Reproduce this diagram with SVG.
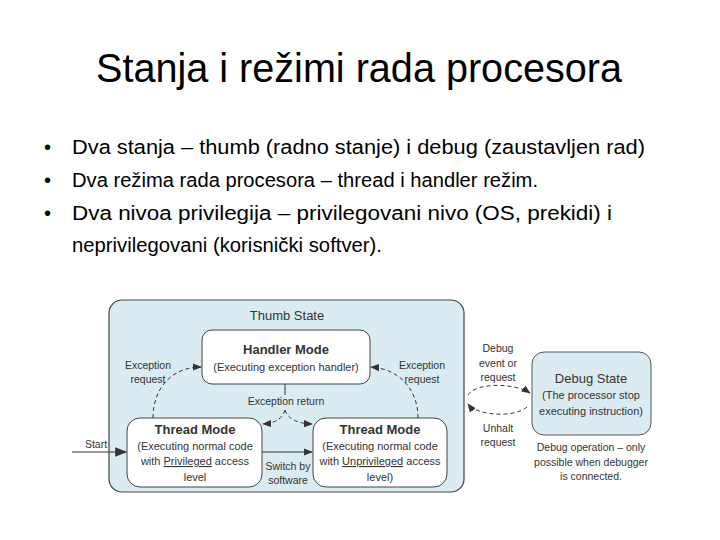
<svg xmlns="http://www.w3.org/2000/svg" width="720" height="540" viewBox="0 0 720 540">
<defs>
<style>
.title{font-family:"Liberation Sans",Arial,sans-serif;font-size:40px;fill:#000}
.bul{font-family:"Liberation Sans",Arial,sans-serif;font-size:20px;fill:#000}
.t{font-family:"Liberation Sans",Arial,sans-serif;fill:#333;text-anchor:middle}
.h{font-size:13px;font-weight:bold}
.n{font-size:11px}
.l{font-size:10.5px}
.s{font-size:13px}
.node{fill:#fff;stroke:#444;stroke-width:1}
.cont{fill:#daebf1;stroke:#444;stroke-width:1.2}
.dash{fill:none;stroke:#333;stroke-width:1;stroke-dasharray:4,3}
.solid{fill:none;stroke:#333;stroke-width:1.2}
</style>
<marker id="arr" viewBox="0 0 10 10" refX="9" refY="5" markerWidth="9" markerHeight="9" markerUnits="userSpaceOnUse" orient="auto">
<path d="M0,1 L10,5 L0,9 Z" fill="#333"/>
</marker>
<marker id="arrL" viewBox="0 0 10 10" refX="9" refY="5" markerWidth="14" markerHeight="12" markerUnits="userSpaceOnUse" orient="auto">
<path d="M0,1 L10,5 L0,9 Z" fill="#333"/>
</marker>
</defs>
<rect width="720" height="540" fill="#fff"/>
<text class="title" x="96" y="82" textLength="526" lengthAdjust="spacingAndGlyphs">Stanja i režimi rada procesora</text>
<g id="bullets">
<text class="bul" x="44" y="154">•</text>
<text class="bul" x="72" y="154" textLength="573" lengthAdjust="spacingAndGlyphs">Dva stanja – thumb (radno stanje) i debug (zaustavljen rad)</text>
<text class="bul" x="44" y="187">•</text>
<text class="bul" x="72" y="187" textLength="466" lengthAdjust="spacingAndGlyphs">Dva režima rada procesora – thread i handler režim.</text>
<text class="bul" x="44" y="220">•</text>
<text class="bul" x="72" y="220" textLength="540" lengthAdjust="spacingAndGlyphs">Dva nivoa privilegija – privilegovani nivo (OS, prekidi) i</text>
<text class="bul" x="72" y="252" textLength="310" lengthAdjust="spacingAndGlyphs">neprivilegovani (korisnički softver).</text>
</g>
<g id="thumb-state">
<rect class="cont" x="109" y="300" width="355" height="192" rx="13"/>
<text class="t s" x="287" y="320">Thumb State</text>
</g>
<g id="handler-mode">
<rect class="node" x="202" y="330" width="168" height="54" rx="10"/>
<text class="t h" x="286" y="354">Handler Mode</text>
<text class="t n" x="286" y="371">(Executing exception handler)</text>
</g>
<g id="thread-priv">
<rect class="node" x="127" y="418" width="135" height="69" rx="13"/>
<text class="t h" x="195" y="434">Thread Mode</text>
<text class="t n" x="195" y="450">(Executing normal code</text>
<text class="t n" x="195" y="465">with <tspan text-decoration="underline">Privileged</tspan> access</text>
<text class="t n" x="195" y="481">level</text>
</g>
<g id="thread-unpriv">
<rect class="node" x="313" y="418" width="134" height="69" rx="13"/>
<text class="t h" x="380" y="434">Thread Mode</text>
<text class="t n" x="380" y="450">(Executing normal code</text>
<text class="t n" x="380" y="465">with <tspan text-decoration="underline">Unprivileged</tspan> access</text>
<text class="t n" x="380" y="481">level)</text>
</g>
<g id="debug-state">
<rect class="cont" x="532" y="352" width="119" height="83" rx="12" style="stroke:#555;stroke-width:1"/>
<text class="t s" x="591" y="383">Debug State</text>
<text class="t n" x="591" y="399">(The processor stop</text>
<text class="t n" x="591" y="415">executing instruction)</text>
<text class="t l" x="591" y="451">Debug operation – only</text>
<text class="t l" x="591" y="466">possible when debugger</text>
<text class="t l" x="591" y="480">is connected.</text>
</g>
<g id="connectors">
<line class="solid" x1="72" y1="452" x2="126" y2="452" marker-end="url(#arrL)"/>
<line class="solid" x1="262" y1="452" x2="312" y2="452" marker-end="url(#arr)"/>
<line class="solid" x1="285" y1="384" x2="285" y2="395" style="stroke-width:1"/>
<path class="dash" d="M285,410 Q281,423 263,424" marker-end="url(#arr)"/>
<path class="dash" d="M285,410 Q289,423 312,424" marker-end="url(#arr)"/>
<path class="dash" d="M153,418 C153,388 172,367 201,367" marker-end="url(#arr)"/>
<path class="dash" d="M418,418 C418,390 400,369 371,367" marker-end="url(#arr)"/>
<path class="dash" d="M468,395 C476,382 515,383 530,393" marker-end="url(#arr)"/>
<path class="dash" d="M527,407 C515,418 477,416 468,404" marker-end="url(#arr)"/>
</g>
<g id="labels">
<text class="t l" x="96" y="448">Start</text>
<text class="t l" x="148" y="369">Exception</text>
<text class="t l" x="148" y="383">request</text>
<text class="t l" x="422" y="369">Exception</text>
<text class="t l" x="422" y="383">request</text>
<text class="t l" x="286" y="405">Exception return</text>
<text class="t l" x="288" y="470">Switch by</text>
<text class="t l" x="288" y="484">software</text>
<text class="t l" x="498" y="352">Debug</text>
<text class="t l" x="498" y="367">event or</text>
<text class="t l" x="498" y="381">request</text>
<text class="t l" x="498" y="432">Unhalt</text>
<text class="t l" x="498" y="446">request</text>
</g>
</svg>
